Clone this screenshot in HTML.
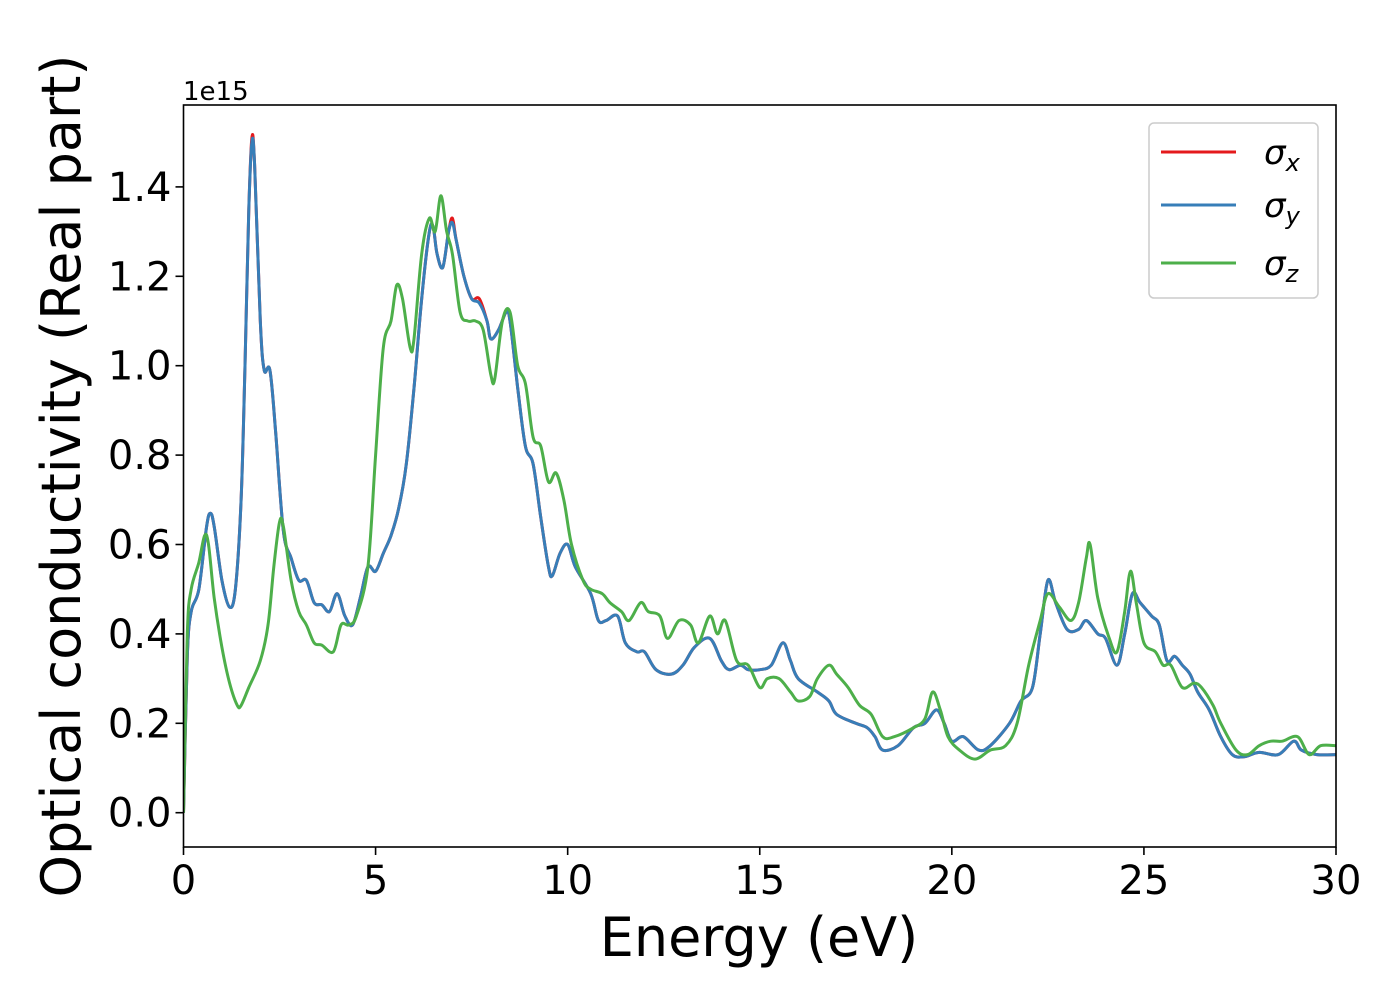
<!DOCTYPE html>
<html><head><meta charset="utf-8"><style>
html,body{margin:0;padding:0;background:#fff;}
svg{display:block;font-family:"DejaVu Sans","Liberation Sans",sans-serif;}
</style></head><body>
<svg id="chart" width="1400" height="1000" xmlns="http://www.w3.org/2000/svg">
<g id="plot"></g>
</svg>
<script>
const xTicks=[0,5,10,15,20,25,30];
const yTicks=[0,0.2,0.4,0.6,0.8,1.0,1.2,1.4];
const yTickLabels=["0.0","0.2","0.4","0.6","0.8","1.0","1.2","1.4"];
const energyXY=[0,0.1,0.2,0.4,0.6,0.7,0.8,1.0,1.2,1.35,1.5,1.6,1.7,1.78,1.85,2.0,2.1,2.25,2.4,2.6,2.8,3.0,3.2,3.4,3.6,3.8,4.0,4.2,4.4,4.6,4.8,5.0,5.2,5.4,5.6,5.8,6.0,6.2,6.4,6.5,6.6,6.75,6.9,7.0,7.1,7.3,7.5,7.7,7.9,8.0,8.2,8.4,8.5,8.7,8.9,9.1,9.3,9.5,9.6,9.8,10.0,10.2,10.6,10.8,11.0,11.3,11.5,11.8,12.0,12.3,12.7,13.0,13.3,13.7,14.0,14.2,14.5,14.7,15.0,15.3,15.6,15.8,16.0,16.5,16.8,17.0,17.5,17.8,18.0,18.2,18.6,19.0,19.3,19.6,19.8,20.0,20.3,20.7,21.0,21.5,21.8,22.1,22.3,22.5,22.7,23.0,23.3,23.5,23.8,24.0,24.3,24.5,24.7,24.9,25.2,25.4,25.6,25.8,26.0,26.2,26.4,26.7,27.0,27.3,27.6,28.0,28.5,28.9,29.1,29.5,30];
const sigmaX=[0,0.35,0.45,0.5,0.64,0.67,0.64,0.52,0.46,0.5,0.7,1.0,1.35,1.51,1.45,1.1,0.99,0.99,0.85,0.63,0.57,0.52,0.52,0.47,0.465,0.45,0.49,0.44,0.42,0.48,0.55,0.54,0.58,0.62,0.68,0.78,0.95,1.15,1.3,1.31,1.25,1.22,1.3,1.33,1.28,1.2,1.15,1.15,1.1,1.06,1.08,1.12,1.1,0.95,0.82,0.78,0.66,0.55,0.53,0.58,0.6,0.55,0.49,0.43,0.43,0.44,0.38,0.36,0.36,0.32,0.31,0.33,0.37,0.39,0.34,0.32,0.33,0.32,0.32,0.33,0.38,0.34,0.3,0.27,0.25,0.22,0.2,0.19,0.17,0.14,0.15,0.19,0.2,0.23,0.2,0.16,0.17,0.14,0.15,0.2,0.25,0.28,0.4,0.52,0.47,0.41,0.41,0.43,0.4,0.39,0.33,0.4,0.49,0.47,0.44,0.42,0.34,0.35,0.33,0.31,0.27,0.23,0.17,0.13,0.125,0.135,0.13,0.16,0.14,0.13,0.13];
const sigmaY=[0,0.35,0.45,0.5,0.64,0.67,0.64,0.52,0.46,0.5,0.7,1.0,1.35,1.5,1.45,1.1,0.99,0.99,0.85,0.63,0.57,0.52,0.52,0.47,0.465,0.45,0.49,0.44,0.42,0.48,0.55,0.54,0.58,0.62,0.68,0.78,0.95,1.15,1.3,1.31,1.25,1.22,1.3,1.32,1.28,1.2,1.15,1.14,1.1,1.06,1.08,1.12,1.1,0.95,0.82,0.78,0.66,0.55,0.53,0.58,0.6,0.55,0.49,0.43,0.43,0.44,0.38,0.36,0.36,0.32,0.31,0.33,0.37,0.39,0.34,0.32,0.33,0.32,0.32,0.33,0.38,0.34,0.3,0.27,0.25,0.22,0.2,0.19,0.17,0.14,0.15,0.19,0.2,0.23,0.2,0.16,0.17,0.14,0.15,0.2,0.25,0.28,0.4,0.52,0.47,0.41,0.41,0.43,0.4,0.39,0.33,0.4,0.49,0.47,0.44,0.42,0.34,0.35,0.33,0.31,0.27,0.23,0.17,0.13,0.125,0.135,0.13,0.16,0.14,0.13,0.13];
const energyZ=[0,0.1,0.2,0.4,0.55,0.65,0.8,1.0,1.2,1.4,1.5,1.7,2.0,2.2,2.35,2.5,2.6,2.8,3.0,3.2,3.4,3.6,3.9,4.1,4.3,4.5,4.8,5.0,5.2,5.4,5.55,5.7,5.9,6.0,6.2,6.4,6.55,6.7,6.85,7.0,7.2,7.4,7.6,7.8,8.0,8.1,8.3,8.5,8.7,8.9,9.1,9.3,9.5,9.7,9.9,10.1,10.4,10.6,10.9,11.1,11.4,11.6,11.9,12.1,12.4,12.6,12.9,13.2,13.4,13.7,13.9,14.1,14.4,14.7,15.0,15.2,15.5,15.8,16.0,16.3,16.5,16.8,17.0,17.3,17.6,17.9,18.2,18.5,19.0,19.3,19.5,19.7,19.9,20.2,20.6,21.0,21.4,21.7,22.0,22.3,22.5,22.8,23.1,23.3,23.5,23.6,23.8,24.1,24.3,24.5,24.65,24.8,25.0,25.3,25.5,25.7,26.0,26.3,26.5,26.8,27.0,27.4,27.7,28.0,28.3,28.6,29.0,29.3,29.6,30];
const sigmaZ=[0,0.4,0.5,0.56,0.62,0.6,0.48,0.37,0.29,0.24,0.24,0.28,0.34,0.42,0.55,0.65,0.64,0.52,0.45,0.42,0.38,0.375,0.36,0.42,0.42,0.44,0.55,0.8,1.04,1.1,1.18,1.15,1.04,1.06,1.25,1.33,1.3,1.38,1.3,1.25,1.12,1.1,1.1,1.08,0.98,0.97,1.1,1.12,1.0,0.96,0.84,0.82,0.74,0.76,0.7,0.6,0.52,0.5,0.49,0.47,0.45,0.43,0.47,0.45,0.44,0.39,0.43,0.42,0.38,0.44,0.4,0.43,0.34,0.33,0.28,0.3,0.3,0.27,0.25,0.26,0.3,0.33,0.31,0.28,0.24,0.22,0.17,0.17,0.19,0.21,0.27,0.23,0.17,0.14,0.12,0.14,0.15,0.2,0.33,0.43,0.49,0.46,0.43,0.47,0.57,0.6,0.48,0.39,0.36,0.45,0.54,0.47,0.38,0.36,0.33,0.33,0.28,0.29,0.28,0.24,0.2,0.14,0.13,0.15,0.16,0.16,0.17,0.13,0.15,0.15];

const NS="http://www.w3.org/2000/svg";
const L=183.5,R=1336,T=105,B=847;
const X0=0,X1=30,Y0=0,Y0PX=812.7,YPER=447;
function sx(v){return L+(v-X0)/(X1-X0)*(R-L);}
function sy(v){return Y0PX-v*YPER;}
const svg=document.getElementById('chart');
const g=document.getElementById('plot');
function mk(tag,attrs,parent){const e=document.createElementNS(NS,tag);for(const k in attrs)e.setAttribute(k,attrs[k]);(parent||svg).appendChild(e);return e;}

const clip=mk('clipPath',{id:'clip'});
mk('rect',{x:L,y:T,width:R-L,height:B-T},clip);

function smoothPath(xs,ys){
  const p=xs.map((x,i)=>[sx(x),sy(ys[i])]);
  let d='M'+p[0][0].toFixed(1)+','+p[0][1].toFixed(1);
  for(let i=0;i<p.length-1;i++){
    const p0=p[Math.max(i-1,0)],p1=p[i],p2=p[i+1],p3=p[Math.min(i+2,p.length-1)];
    const c1=[p1[0]+(p2[0]-p0[0])/6,p1[1]+(p2[1]-p0[1])/6];
    const c2=[p2[0]-(p3[0]-p1[0])/6,p2[1]-(p3[1]-p1[1])/6];
    d+='C'+c1[0].toFixed(1)+','+c1[1].toFixed(1)+' '+c2[0].toFixed(1)+','+c2[1].toFixed(1)+' '+p2[0].toFixed(1)+','+p2[1].toFixed(1);
  }
  return d;
}
const cg=mk('g',{'clip-path':'url(#clip)'},g);
const lx=mk('path',{d:smoothPath(energyXY,sigmaX),fill:'none',stroke:'#e41a1c','stroke-width':3},cg);


const lz=mk('path',{d:smoothPath(energyZ,sigmaZ),fill:'none',stroke:'#4daf4a','stroke-width':3},cg);


const ly=mk('path',{d:smoothPath(energyXY,sigmaY),fill:'none',stroke:'#377eb8','stroke-width':3},cg);


// re-draw green on top? reference shows green above blue in places; keep blue under green
cg.appendChild(lz);

const frame=mk('rect',{x:L,y:T,width:R-L,height:B-T,fill:'none',stroke:'#000','stroke-width':1.6});



xTicks.forEach(v=>{
  mk('line',{x1:sx(v),x2:sx(v),y1:B,y2:B+8,stroke:'#000','stroke-width':1.6});
  const t=mk('text',{x:sx(v),y:B+47,'font-size':40,'text-anchor':'middle',fill:'#000'});
  t.textContent=v;
  
  
});
yTicks.forEach((v,i)=>{
  mk('line',{x1:L-8,x2:L,y1:sy(v),y2:sy(v),stroke:'#000','stroke-width':1.6});
  const t=mk('text',{x:L-12,y:sy(v)+14,'font-size':40,'text-anchor':'end',fill:'#000'});
  t.textContent=yTickLabels[i];
  
  
});
</script>
<svg style="position:absolute;left:0;top:0" width="1400" height="1000" xmlns="http://www.w3.org/2000/svg" font-family="DejaVu Sans, Liberation Sans, sans-serif">
<text x="183" y="100" font-size="26">1e15</text>
<text x="759" y="956" font-size="54" text-anchor="middle">Energy (eV)</text>
<text transform="translate(80,476) rotate(-90)" font-size="54" text-anchor="middle">Optical conductivity (Real part)</text>
<g>
<rect x="1149" y="123" width="169" height="175" rx="5" fill="#fff" fill-opacity="0.8" stroke="#ccc" stroke-width="1.5"/>
<g><line x1="1161" x2="1236" y1="152" y2="152" stroke="#e41a1c" stroke-width="3"/><text x="1264" y="164" font-size="34" font-style="italic">σ<tspan font-size="24" dy="7">x</tspan></text></g>
<g><line x1="1161" x2="1236" y1="205" y2="205" stroke="#377eb8" stroke-width="3"/><text x="1264" y="217" font-size="34" font-style="italic">σ<tspan font-size="24" dy="7">y</tspan></text></g>
<g><line x1="1161" x2="1236" y1="263" y2="263" stroke="#4daf4a" stroke-width="3"/><text x="1264" y="275" font-size="34" font-style="italic">σ<tspan font-size="24" dy="7">z</tspan></text></g>
</g>
</svg>
</body></html>
